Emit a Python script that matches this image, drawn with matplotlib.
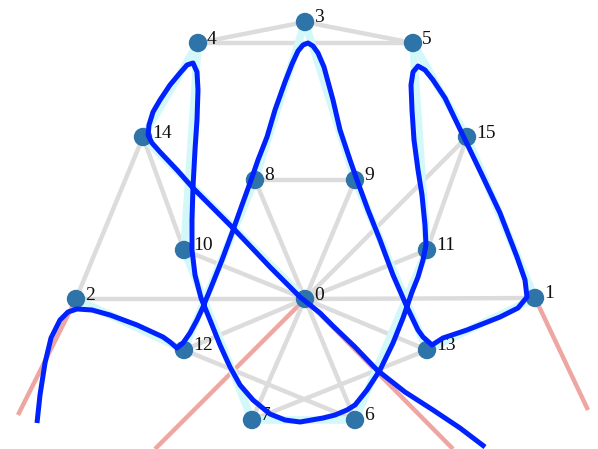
import matplotlib.pyplot as plt
from matplotlib.patches import Circle

# node positions (pixel coordinates of the picture, y grows downwards)
node_x = [305, 535, 76, 305, 198, 413, 355, 252, 255, 355, 184, 427, 184, 427, 143, 467]
node_y = [299, 298, 299, 22, 43, 43, 420, 420, 180, 180, 250, 250, 350, 350, 137, 137]

gray_edges = [(3, 4), (3, 5), (4, 5), (8, 9), (2, 14), (14, 10), (15, 11), (15, 0),
              (2, 0), (0, 1), (0, 8), (0, 9), (0, 10), (0, 11), (0, 12), (0, 13),
              (0, 7), (0, 6), (12, 6), (13, 7)]

# highlighted path through every node
path_nodes = [2, 12, 8, 3, 9, 13, 1, 15, 5, 11, 6, 7, 10, 4, 14, 0]

# red edges running out of the picture: (node, end x, end y)
red_node = [2, 0, 0, 1]
red_end_x = [18, 155, 453, 588]
red_end_y = [415, 449, 449, 410]

# hand drawn blue stroke
stroke_x = [37, 40, 45, 51, 60, 68, 77, 92, 110, 137, 163, 170, 177, 183, 190, 197,
            203, 212, 222, 232, 242, 250, 258, 267, 275, 285, 292, 298, 303, 308,
            313, 318, 324, 333, 340, 350, 357, 368, 380, 393, 407, 418, 423, 432,
            443, 467, 500, 518, 527, 525, 517, 500, 482, 470, 457, 445, 433, 425,
            418, 413, 411, 412, 414, 418, 422, 425, 426, 423, 418, 412, 403, 393,
            380, 367, 355, 347, 335, 323, 300, 285, 270, 253, 240, 230, 220, 210,
            201, 195, 192, 192, 193, 195, 197, 198, 197, 193, 187, 180, 170, 160,
            153, 149, 148, 152, 160, 177, 193, 213, 233, 252, 270, 288, 300, 320,
            333, 355, 377, 405, 433, 460, 485]
stroke_y = [423, 395, 363, 338, 320, 312, 309, 310, 315, 325, 337, 342, 348, 343, 333, 320,
            307, 285, 260, 233, 205, 183, 160, 137, 110, 82, 64, 51, 45, 43,
            46, 53, 67, 100, 130, 160, 180, 210, 240, 275, 307, 330, 337, 345,
            338, 330, 317, 308, 297, 280, 257, 213, 175, 150, 123, 98, 80, 70,
            66, 72, 85, 110, 140, 170, 195, 225, 245, 260, 277, 292, 318, 343,
            370, 390, 405, 410, 415, 418, 422, 420, 414, 400, 385, 367, 345, 320,
            298, 275, 250, 220, 187, 150, 120, 90, 72, 63, 65, 73, 85, 100,
            112, 125, 135, 143, 152, 170, 188, 208, 228, 248, 267, 285, 297, 313,
            326, 347, 370, 392, 410, 428, 447]

fig = plt.figure(figsize=(5.98, 4.49), dpi=100)
ax = fig.add_axes([0, 0, 1, 1])
ax.set_xlim(0, 598)
ax.set_ylim(449, 0)
ax.axis('off')

# red edges
for n, ex, ey in zip(red_node, red_end_x, red_end_y):
    ax.plot([node_x[n], ex], [node_y[n], ey], color='#eea6a2', lw=3.2,
            solid_capstyle='butt', zorder=1)

# gray edges
for a, b in gray_edges:
    ax.plot([node_x[a], node_x[b]], [node_y[a], node_y[b]], color='#dcdcdc', lw=3.2,
            solid_capstyle='butt', zorder=2)

# cyan highlighted path
ax.plot([node_x[i] for i in path_nodes], [node_y[i] for i in path_nodes],
        color='#d2f8fa', lw=5.5, solid_joinstyle='round', zorder=3)

# nodes and labels
for i, (x, y) in enumerate(zip(node_x, node_y)):
    ax.add_patch(Circle((x, y), 8.5, color='#2f74a8', zorder=4))
    ax.text(x + 9, y - 4, str(i), fontsize=14, family='Liberation Serif',
            ha='left', va='center', color='#111111', zorder=5)

# blue stroke
ax.plot(stroke_x, stroke_y, color='#0022ff', lw=3.6, solid_joinstyle='round',
        solid_capstyle='butt', zorder=6)

fig.savefig('out.png', dpi=100)
